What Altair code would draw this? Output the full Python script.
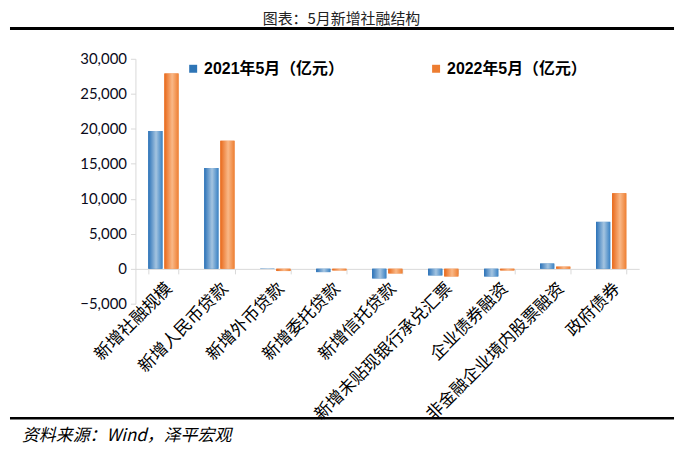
import altair as alt
import pandas as pd

categories = ["新增社融规模", "新增人民币贷款", "新增外币贷款", "新增委托贷款", "新增信托贷款",
              "新增未贴现银行承兑汇票", "企业债券融资", "非金融企业境内股票融资", "政府债券"]
series = ["2021年5月（亿元）", "2022年5月（亿元）"]
v2021 = [19700, 14400, 30, -480, -1380, -950, -1100, 740, 6700]
v2022 = [27900, 18300, -330, -240, -670, -1100, -240, 300, 10800]
y_ticks = [-5000, 0, 5000, 10000, 15000, 20000, 25000, 30000]
title_text = "图表：5月新增社融结构"
source_text = "资料来源：Wind，泽平宏观"

rows = []
for c, a, b in zip(categories, v2021, v2022):
    rows.append({"cat": c, "series": series[0], "value": a})
    rows.append({"cat": c, "series": series[1], "value": b})
df = pd.DataFrame(rows)

BLUE = "#2e75b6"
ORANGE = "#ed7d31"
grad_blue = {"gradient": "linear", "x1": 0, "x2": 1, "y1": 0, "y2": 0,
             "stops": [{"offset": 0, "color": "#2b72b8"},
                       {"offset": 0.55, "color": "#a4c4e0"},
                       {"offset": 1, "color": "#3a82c4"}]}
grad_orange = {"gradient": "linear", "x1": 0, "x2": 1, "y1": 0, "y2": 0,
               "stops": [{"offset": 0, "color": "#e8681a"},
                         {"offset": 0.55, "color": "#f9b887"},
                         {"offset": 1, "color": "#ee7f33"}]}

W, H = 506, 246
CJK = "Noto Sans CJK SC"

x = alt.X("cat:N", sort=categories,
          scale=alt.Scale(paddingInner=0.46, paddingOuter=0.23),
          axis=alt.Axis(title=None, labelAngle=-45, labelAlign="right", labelBaseline="top",
                        offset=-35, tickBand="extent", tickSize=5, tickColor="#d9d9d9",
                        domainColor="#d9d9d9", labelFont=CJK, labelFontSize=17,
                        labelColor="#000", labelPadding=6, labelLimit=400))
y = alt.Y("value:Q", scale=alt.Scale(domain=[-5000, 30000], nice=False, zero=False),
          axis=alt.Axis(title=None, values=y_ticks, format=",.0f", grid=False,
                        domainColor="#d9d9d9", tickColor="#d9d9d9", tickSize=5,
                        labelFont="Lato", labelFontSize=15, labelColor="#0a0a1a",
                        labelPadding=4))
xo = alt.XOffset("series:N", sort=series, scale=alt.Scale(paddingInner=0.12))

base = alt.Chart(df).encode(x=x, y=y, xOffset=xo)

solid = base.mark_bar().encode(
    fill=alt.Fill("series:N", sort=series,
                  scale=alt.Scale(domain=series, range=[BLUE, ORANGE]),
                  legend=alt.Legend(title=None, orient="none", legendX=50, legendY=2,
                                    direction="horizontal", symbolType="square",
                                    symbolSize=64, labelFontSize=16, labelFontWeight="bold",
                                    labelFont="Liberation Sans, Noto Sans CJK SC",
                                    labelOffset=3,
                                    labelColor="#000", columnPadding=84, labelLimit=400,
                                    symbolStrokeWidth=0))
)
grad = base.mark_bar().encode(
    fill=alt.condition(alt.datum.series == series[0], alt.value(grad_blue), alt.value(grad_orange))
)

title = alt.Chart(pd.DataFrame({"t": [title_text]})).mark_text(
    font=CJK, fontSize=15, color="#222", align="center", baseline="middle"
).encode(text="t:N", x=alt.value(207), y=alt.value(-40))

source = alt.Chart(pd.DataFrame({"t": [source_text]})).mark_text(
    font=CJK, fontSize=17, fontStyle="italic", color="#000", align="left", baseline="middle"
).encode(text="t:N", x=alt.value(-114), y=alt.value(379))

top_line = alt.Chart(pd.DataFrame({"a": [0]})).mark_rule(color="#000", strokeWidth=3).encode(
    x=alt.value(-126), x2=alt.value(541), y=alt.value(-30.5))
bottom_line = alt.Chart(pd.DataFrame({"a": [0]})).mark_rule(color="#000", strokeWidth=2.5).encode(
    x=alt.value(-126), x2=alt.value(541), y=alt.value(361))

chart = alt.layer(solid, grad, title, source, top_line, bottom_line).properties(
    width=W, height=H,
    autosize=alt.AutoSizeParams(type="none"),
    padding={"left": 128, "top": 50, "right": 40, "bottom": 170},
    background="white",
).configure_view(stroke=None)

chart.save("out.html", embed_options={"renderer": "svg", "actions": False})
